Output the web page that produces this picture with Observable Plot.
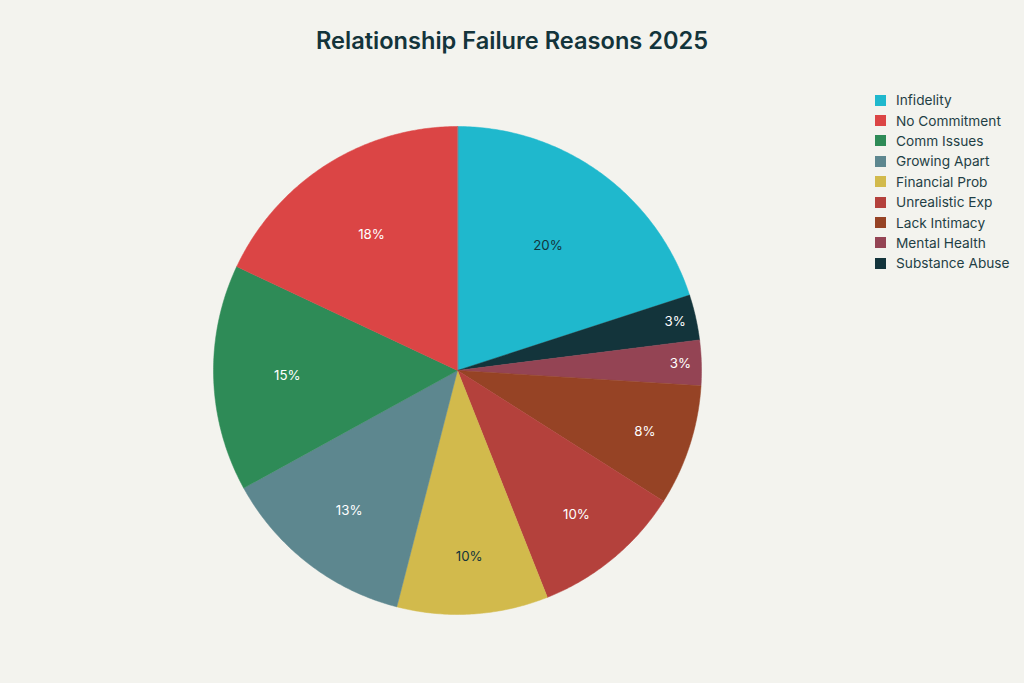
<!DOCTYPE html>
<html>
<head>
<meta charset="utf-8">
<script src="https://cdn.jsdelivr.net/npm/d3@7"></script>
<script src="https://cdn.jsdelivr.net/npm/@observablehq/plot@0.6"></script>
<style>
  html, body { margin: 0; padding: 0; background: #F3F3EE; }
  #wrap { position: relative; width: 1024px; height: 683px; overflow: hidden; font-family: "Inter", "Liberation Sans", sans-serif; }
  #title { position: absolute; left: 0; width: 1024px; top: 26px; text-align: center; font-size: 23.6px; font-weight: 600; color: #13343B; }
  #legend { position: absolute; left: 875px; top: 90px; font-size: 13.7px; color: #1f3f45; }
  .item { display: flex; align-items: center; height: 20.4px; white-space: nowrap; }
  .sw { width: 11px; height: 11px; margin-right: 10px; }
  #chart { position: absolute; left: 0; top: 0; }
</style>
</head>
<body>
<div id="wrap">
  <div id="chart"></div>
  <div id="title">Relationship Failure Reasons 2025</div>
  <div id="legend"></div>
</div>
<script>
// Data
const categories = ["Infidelity", "No Commitment", "Comm Issues", "Growing Apart", "Financial Prob", "Unrealistic Exp", "Lack Intimacy", "Mental Health", "Substance Abuse"];
const values = [20, 18, 15, 13, 10, 10, 8, 3, 3];
const colors = ["#1FB8CD", "#DB4545", "#2E8B57", "#5D878F", "#D2BA4C", "#B4413C", "#964325", "#944454", "#13343B"];
const darkText = ["Infidelity", "Financial Prob"];

// Clockwise draw order starting at 12 o'clock
const clockwiseOrder = ["Infidelity", "Substance Abuse", "Mental Health", "Lack Intimacy", "Unrealistic Exp", "Financial Prob", "Growing Apart", "Comm Issues", "No Commitment"];

const total = d3.sum(values);
const rows = clockwiseOrder.map(c => {
  const i = categories.indexOf(c);
  return {category: c, value: values[i], color: colors[i]};
});

// compute slice polygons in unit-circle coordinates (angle from top, clockwise)
const pts = [];
const labels = [];
let acc = 0;
const labelR = d3.scaleLinear().domain([3, 10, 20]).range([0.914, 0.765, 0.631]);
rows.forEach(r => {
  const a0 = acc / total * 2 * Math.PI;
  acc += r.value;
  const a1 = acc / total * 2 * Math.PI;
  pts.push({category: r.category, x: 0, y: 0});
  const n = Math.max(4, Math.ceil((a1 - a0) / 0.01));
  for (let k = 0; k <= n; k++) {
    const a = a0 + (a1 - a0) * k / n;
    pts.push({category: r.category, x: Math.sin(a), y: Math.cos(a)});
  }
  const am = (a0 + a1) / 2;
  const pct = r.value / total * 100;
  const lr = labelR(pct);
  labels.push({category: r.category, x: lr * Math.sin(am), y: lr * Math.cos(am), text: Math.round(pct) + "%"});
});

const R = 244, cx = 457, cy = 370, W = 1024, H = 683;
const chart = Plot.plot({
  width: W, height: H,
  margin: 0,
  style: {background: "transparent", fontFamily: "Inter, 'Liberation Sans', sans-serif"},
  x: {domain: [-cx / R, (W - cx) / R], range: [0, W], axis: null},
  y: {domain: [-(H - cy) / R, cy / R], range: [H, 0], axis: null},
  color: {domain: categories, range: colors},
  marks: [
    Plot.line(pts, {x: "x", y: "y", z: "category", fill: "category", stroke: "category", strokeWidth: 0.5, curve: "linear-closed"}),
    Plot.text(labels, {x: "x", y: "y", text: "text", fontSize: 13.3,
      fill: d => darkText.includes(d.category) ? "#13343B" : "#ffffff"})
  ]
});
document.getElementById("chart").appendChild(chart);

const legend = document.getElementById("legend");
categories.forEach((c, i) => {
  const div = document.createElement("div");
  div.className = "item";
  const sw = document.createElement("span");
  sw.className = "sw";
  sw.style.background = colors[i];
  const t = document.createElement("span");
  t.textContent = c;
  div.appendChild(sw); div.appendChild(t);
  legend.appendChild(div);
});
</script>
</body>
</html>
